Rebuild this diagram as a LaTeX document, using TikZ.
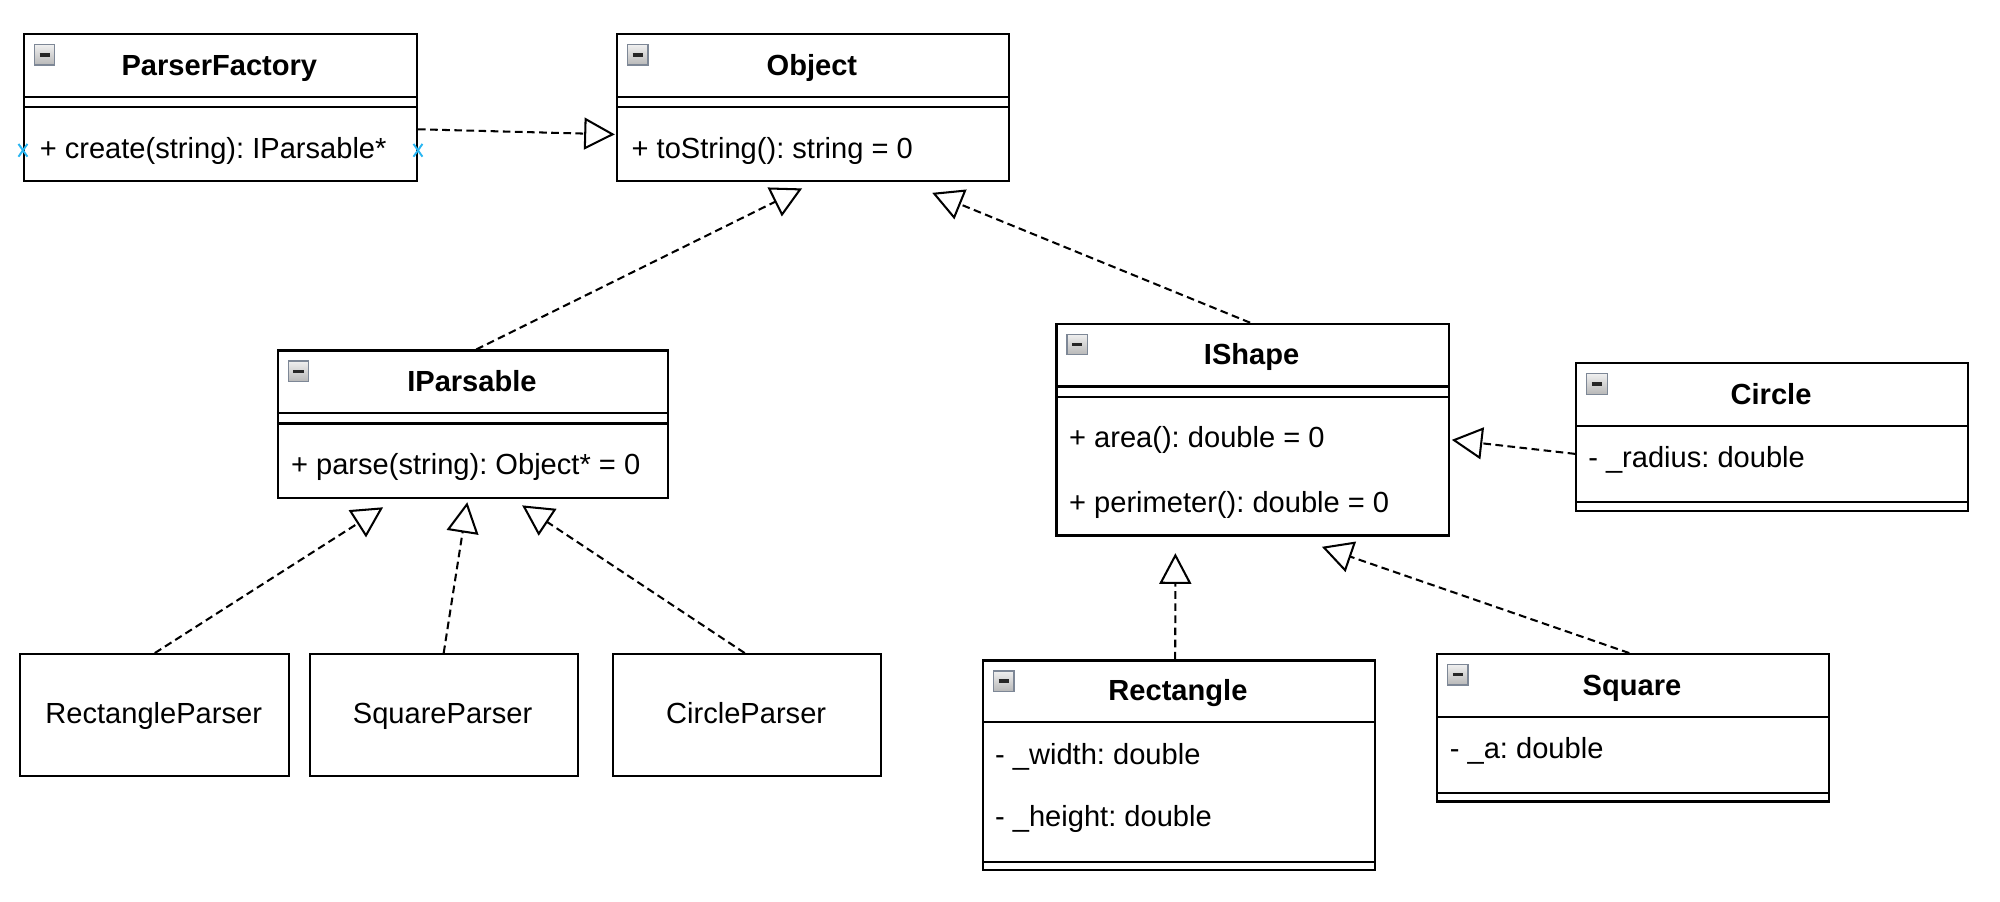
\documentclass[tikz,border=0pt]{standalone}
\usepackage{fontspec}
\setmainfont{Liberation Sans}
\usetikzlibrary{arrows.meta,calc}
\frenchspacing
\tikzset{
  ubox/.style={draw, line width=1.7pt, rectangle, inner sep=0pt, anchor=north west},
  sepline/.style={line width=1.7pt},
  hdr/.style={font=\fontsize{22.8}{27}\selectfont\bfseries, anchor=base, inner sep=0pt},
  mem/.style={font=\fontsize{22.8}{27}\selectfont, anchor=base west, inner sep=0pt},
  ctr/.style={font=\fontsize{22.8}{27}\selectfont, anchor=base, inner sep=0pt},
  realize/.style={dash pattern=on 6pt off 3.5pt, line width=1.6pt,
    -{Triangle[open, length=24pt, width=25pt]}},
  iconbox/.style={draw={rgb,255:red,125;green,135;blue,150}, line width=1pt,
    top color=white!94!black, bottom color=black!28},
  selmark/.style={draw={rgb,255:red,41;green,182;blue,242}, line width=1.5pt}
}
\newcommand\mkicon[1]{%
  \draw[iconbox] ($(#1.north west)+(9,9)$) rectangle ($(#1.north west)+(25,25)$);
  \draw[line width=2.6pt, black!85] ($(#1.north west)+(13,17)$) -- ($(#1.north west)+(21,17)$);}
\begin{document}
\begin{tikzpicture}[x=1pt, y=-1pt]
\fill[white] (0,0) rectangle (1568,707);
\useasboundingbox (0,0) rectangle (1568,707);

% ---------- class boxes ----------
\node[ubox, minimum width=308pt, minimum height=115pt] (pf) at (18,26) {};
\node[ubox, minimum width=307pt, minimum height=115pt] (obj) at (483,26) {};
\node[ubox, minimum width=306pt, minimum height=115.5pt] (ipar) at (217,274) {};
\node[ubox, minimum width=307.5pt, minimum height=166pt] (ishape) at (827.5,253) {};
\node[ubox, minimum width=307pt, minimum height=116pt] (circle) at (1235,284) {};
\node[ubox, minimum width=211pt, minimum height=95.5pt] (rp) at (15,512) {};
\node[ubox, minimum width=210pt, minimum height=95.5pt] (sp) at (242,512) {};
\node[ubox, minimum width=210pt, minimum height=95.5pt] (cp) at (480,512) {};
\node[ubox, minimum width=307pt, minimum height=164.5pt] (rect) at (770,517) {};
\node[ubox, minimum width=307pt, minimum height=115.5pt] (square) at (1126,512) {};

% ---------- compartment lines ----------
\foreach \b in {pf,obj,ipar,ishape}{
  \draw[sepline] ($(\b.north west)+(0,50)$) -- ($(\b.north east)+(0,50)$);
  \draw[sepline] ($(\b.north west)+(0,58)$) -- ($(\b.north east)+(0,58)$);
}
\draw[sepline] ($(circle.north west)+(0,50)$) -- ($(circle.north east)+(0,50)$);
\draw[sepline] ($(circle.south west)+(0,-8)$) -- ($(circle.south east)+(0,-8)$);
\draw[sepline] ($(rect.north west)+(0,49)$) -- ($(rect.north east)+(0,49)$);
\draw[sepline] ($(rect.south west)+(0,-7.5)$) -- ($(rect.south east)+(0,-7.5)$);
\draw[sepline] ($(square.north west)+(0,50)$) -- ($(square.north east)+(0,50)$);
\draw[sepline] ($(square.south west)+(0,-7.5)$) -- ($(square.south east)+(0,-7.5)$);

% ---------- collapse icons ----------
\mkicon{pf}\mkicon{obj}\mkicon{ipar}\mkicon{ishape}\mkicon{circle}\mkicon{rect}\mkicon{square}

% ---------- texts ----------
\node[hdr] (pfh) at (172,59) {ParserFactory};
\node[mem] (pfm) at (31,124) {+ create(string): IParsable*};
\node[hdr] (objh) at (636.5,59) {Object};
\node[mem] (objm) at (495,124) {+ toString(): string = 0};
\node[hdr] (iparh) at (370,307) {IParsable};
\node[mem] (iparm) at (228,372) {+ parse(string): Object* = 0};
\node[hdr] (ishapeh) at (981.25,286) {IShape};
\node[mem] (ishapem1) at (838,351) {+ area(): double = 0};
\node[mem] (ishapem2) at (838,401.5) {+ perimeter(): double = 0};
\node[hdr] (circleh) at (1388.5,317) {Circle};
\node[mem] (circlea) at (1245,366.5) {- \_radius: double};
\node[hdr] (recth) at (923.5,549.5) {Rectangle};
\node[mem] (recta1) at (780,599) {- \_width: double};
\node[mem] (recta2) at (780,648) {- \_height: double};
\node[hdr] (squareh) at (1279.5,545) {Square};
\node[mem] (squarea) at (1136.5,594.5) {- \_a: double};
\node[ctr] (rpt) at (120.5,567) {RectangleParser};
\node[ctr] (spt) at (347,567) {SquareParser};
\node[ctr] (cpt) at (585,567) {CircleParser};

% ---------- selection markers ----------
\coordinate (m1) at ($(pf.west)+(0,33.5)$);
\coordinate (m2) at ($(pf.east)+(0,33.5)$);
\foreach \m in {m1,m2}{
  \draw[selmark] ($(\m)+(-3.5,-5)$) -- ($(\m)+(3.5,5)$);
  \draw[selmark] ($(\m)+(-3.5,5)$) -- ($(\m)+(3.5,-5)$);
}

% ---------- realization connectors ----------
\draw[realize] ($(pf.east)+(0,17)$) -- ($(obj.west)+(-1,21)$);
\draw[realize] ($(ipar.north)+(2.5,0)$) -- ($(obj.south)+(-8.5,5)$);
\draw[realize] ($(ishape.north)+(-2,0)$) -- ($(obj.south)+(93.5,8.5)$);
\draw[realize] (rp.north) -- ($(ipar.south)+(-70.5,6.5)$);
\draw[realize] (sp.north) -- ($(ipar.south)+(-4.5,2.5)$);
\draw[realize] ($(cp.north)+(-2,0)$) -- ($(ipar.south)+(38.5,5)$);
\draw[realize] ($(rect.north)+(-3,0)$) -- ($(ishape.south)+(-60.6,13)$);
\draw[realize] ($(square.north)+(-3,0)$) -- ($(ishape.south)+(54.25,8)$);
\draw[realize] ($(circle.west)+(0,13)$) -- ($(ishape.east)+(1.5,8)$);
\end{tikzpicture}
\end{document}
